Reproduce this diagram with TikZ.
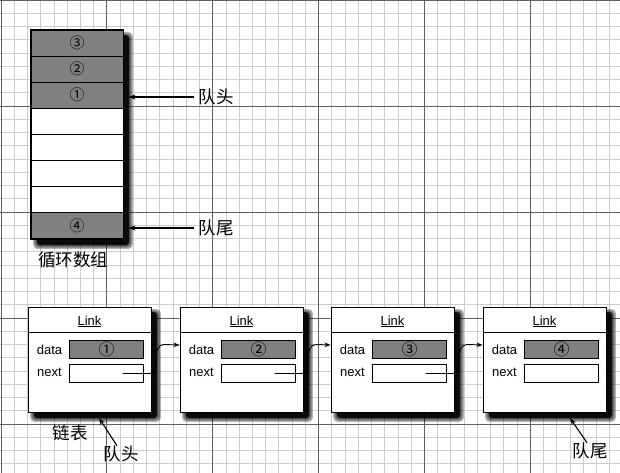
\documentclass[tikz,border=0pt]{standalone}
\usepackage{fontspec}
\setmainfont{Liberation Sans}
\newfontfamily\cjk{Noto Sans CJK SC}
\usetikzlibrary{arrows.meta,calc}
\definecolor{minorc}{gray}{0.80}
\definecolor{majorc}{gray}{0.38}
\definecolor{cellgray}{gray}{0.50}
\newcommand\myshadow[4]{%
  \foreach \e in {0,1.2,2.4,3.6,4.8}{%
    \fill[black,opacity=0.3,rounded corners=4pt] ({#1+7-\e},{#2+7-\e}) rectangle ({#3+5+\e},{#4+5+\e});}
  \fill[black,opacity=0.75,rounded corners=3pt] ({#1+6},{#2+5}) rectangle ({#3+6},{#4+6});}
\begin{document}
\begin{tikzpicture}[x=1pt,y=-1pt,
  minorgrid/.style={draw=minorc,line width=0.7pt},
  majorgrid/.style={draw=majorc,line width=0.9pt},
  acell/.style={draw=black,line width=0.8pt,minimum width=92pt,minimum height=26.1pt,inner sep=0pt,fill=white,font=\cjk\fontsize{15}{15}\selectfont},
  gcell/.style={acell,fill=cellgray},
  linkbox/.style={draw=black,line width=1pt,fill=white,minimum width=123pt,minimum height=105pt,inner sep=0pt},
  field/.style={draw=black,line width=0.9pt,minimum width=74pt,minimum height=18pt,inner sep=0pt,fill=white,font=\cjk\fontsize{16}{16}\selectfont},
  gfield/.style={field,fill=cellgray},
  lbl/.style={font=\fontsize{13}{13}\selectfont,inner sep=0pt},
  zh/.style={font=\cjk\fontsize{17.5}{17.5}\selectfont,inner sep=0pt},
  arr/.style={line width=1.1pt,-{Stealth[length=7pt,width=5pt]}},
  conn/.style={line width=0.9pt,-{Stealth[length=6pt,width=4.5pt]}}]
\useasboundingbox (0,0) rectangle (620,473);
\fill[white] (0,0) rectangle (620,473);
% grid
\foreach \i in {0,...,47}{\draw[minorgrid] ({1+\i*13.23},0) -- ++(0,473);}
\foreach \i in {0,...,36}{\draw[minorgrid] (0,{\i*13.25}) -- ++(620,0);}
\foreach \i in {0,...,5}{\draw[majorgrid] ({1+\i*105.84},0) -- ++(0,473);}
\foreach \i in {0,...,4}{\draw[majorgrid] (0,{\i*106}) -- ++(620,0);}
% circular array
\myshadow{31}{30}{123}{239}
\node[gcell] (a0) at (77,43.05) {③};
\node[gcell] (a1) at (77,69.15) {②};
\node[gcell] (a2) at (77,95.25) {①};
\node[acell] (a3) at (77,121.35) {};
\node[acell] (a4) at (77,147.45) {};
\node[acell] (a5) at (77,173.55) {};
\node[acell] (a6) at (77,199.65) {};
\node[gcell] (a7) at (77,225.75) {④};
\draw[line width=1.2pt] (a0.north west) rectangle (a7.south east);
\node[zh] (head1) at (216,97) {队头};
\node[zh] (tail1) at (216,228) {队尾};
\draw[arr] (head1.west) ++(-4,0) -- ($(a2.east |- head1.west)+(5,0)$);
\draw[arr] (tail1.west) ++(-4,0) -- ($(a7.east |- tail1.west)+(5,0)$);
\node[zh] (arrlbl) at (73,260) {循环数组};
% linked list
\foreach \n/\cx/\num in {1/89.5/①,2/241.5/②,3/392.5/③,4/544.5/④}{
  \myshadow{\cx-61.5}{307}{\cx+61.5}{412}
  \node[linkbox] (L\n) at (\cx,359.5) {};
  \draw[line width=0.9pt] ($(L\n.north west)+(0,26)$) -- ($(L\n.north east)+(0,26)$);
  \node[lbl] (T\n) at ($(L\n.north)+(0,15)$) {\underline{Link}};
  \node[lbl] (dl\n) at ($(L\n.north west)+(22,43)$) {data};
  \node[gfield] (D\n) at ($(L\n.north west)+(79,43)$) {\num};
  \node[lbl] (nl\n) at ($(L\n.north west)+(22,66)$) {next};
  \node[field] (N\n) at ($(L\n.north west)+(79,67)$) {};
}
\foreach \a/\b in {1/2,2/3,3/4}{
  \draw[conn] ($(N\a.center)+(16,0)$) -- (N\a.east) -- ++(6,0)
     to[out=0,in=-90] ++(6,-14) to[out=90,in=180] ++(8,-15) -- ($(L\b.west)+(0,-14.5)$);
}
\node[zh] (lllbl) at (70,433) {链表};
\node[zh] (head2) at (121,454) {队头};
\node[zh] (tail2) at (590,451) {队尾};
\coordinate (htip) at (99,418);
\coordinate (ttip) at (570,418);
\draw[arr] ([xshift=-4pt]head2.north) -- (htip);
\draw[arr] ([xshift=-3pt]tail2.north) -- (ttip);
\end{tikzpicture}
\end{document}
